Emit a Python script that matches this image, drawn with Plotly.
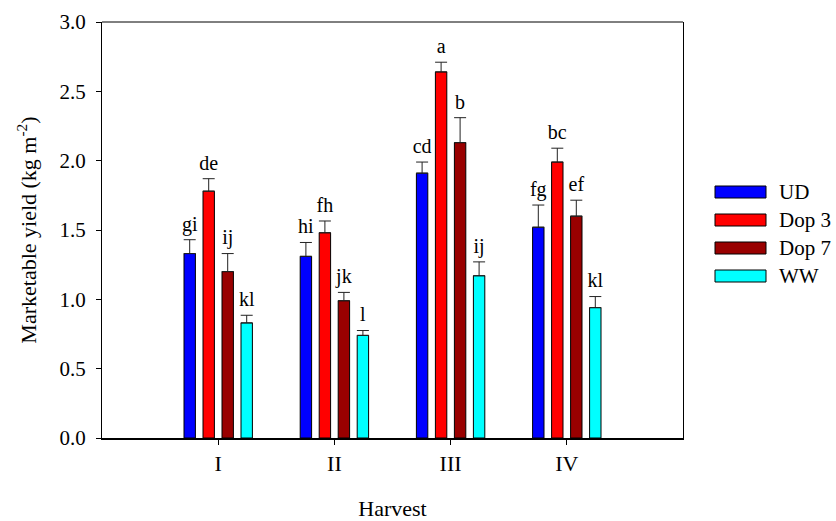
import plotly.graph_objects as go

harvests = ["I", "II", "III", "IV"]
series_names = ["UD", "Dop 3", "Dop 7", "WW"]
series_colors = ["#0000FF", "#FF0000", "#990000", "#00FFFF"]

ud = [1.33, 1.31, 1.91, 1.52]
ud_err = [0.10, 0.10, 0.08, 0.16]
dop3 = [1.78, 1.48, 2.64, 1.99]
dop3_err = [0.09, 0.085, 0.07, 0.10]
dop7 = [1.20, 0.99, 2.13, 1.60]
dop7_err = [0.13, 0.06, 0.18, 0.115]
ww = [0.83, 0.74, 1.17, 0.94]
ww_err = [0.055, 0.035, 0.10, 0.08]

ud_letters = ["gi", "hi", "cd", "fg"]
dop3_letters = ["de", "fh", "a", "bc"]
dop7_letters = ["ij", "jk", "b", "ef"]
ww_letters = ["kl", "l", "ij", "kl"]

values = [ud, dop3, dop7, ww]
errors = [ud_err, dop3_err, dop7_err, ww_err]
letters = [ud_letters, dop3_letters, dop7_letters, ww_letters]

xpos = list(range(1, len(harvests) + 1))
FONT = "Liberation Serif"

fig = go.Figure()
for k, name in enumerate(series_names):
    fig.add_trace(go.Bar(
        x=xpos, y=values[k], name=name, offsetgroup=str(k), alignmentgroup="a",
        marker=dict(color=series_colors[k], line=dict(color="#000000", width=1)),
        error_y=dict(type="data", symmetric=False, array=errors[k],
                     arrayminus=[0] * len(harvests), color="#222222",
                     thickness=1, width=6),
        showlegend=False,
    ))
for k, name in enumerate(series_names):
    tops = [v + e for v, e in zip(values[k], errors[k])]
    fig.add_trace(go.Scatter(
        x=xpos, y=tops, mode="markers+text", text=letters[k], textposition="top center",
        offsetgroup=str(k), alignmentgroup="a",
        marker=dict(size=5, opacity=0),
        textfont=dict(family=FONT, size=20, color="#000000"),
        showlegend=False, hoverinfo="skip",
    ))

# plot area in pixels
L, R, T, B = 102, 683, 22, 438
W, H = R - L, B - T

def px(x):
    return (x - L) / W

def py(y):
    return (B - y) / H

shapes = [dict(type="line", xref="paper", yref="paper", x0=0, x1=1, y0=1, y1=1,
               line=dict(color="#000000", width=1))]
annotations = []
row_y = [192, 220, 248, 276]
for k, name in enumerate(series_names):
    shapes.append(dict(type="rect", xref="paper", yref="paper",
                       x0=px(715), x1=px(766), y0=py(row_y[k] + 6), y1=py(row_y[k] - 6),
                       fillcolor=series_colors[k], line=dict(color="#000000", width=1)))
    annotations.append(dict(xref="paper", yref="paper", x=px(777), y=py(row_y[k]),
                            text=name, showarrow=False, xanchor="left", yanchor="middle",
                            font=dict(family=FONT, size=21, color="#000000")))

fig.update_layout(
    width=836, height=521,
    margin=dict(l=L, r=836 - R, t=T, b=521 - B),
    paper_bgcolor="white", plot_bgcolor="white",
    barmode="group", bargap=0.346, bargroupgap=0.4,
    scattermode="group", scattergap=0.346,
    font=dict(family=FONT, size=20, color="#000000"),
    shapes=shapes, annotations=annotations,
    xaxis=dict(range=[0, 5], tickvals=xpos, ticktext=harvests, showgrid=False,
               zeroline=False, showline=True, linecolor="#000000", linewidth=2,
               ticks="outside", ticklen=5, tickcolor="#000000", tickwidth=1,
               automargin=False,
               tickfont=dict(family=FONT, size=22),
               title=dict(text="Harvest", font=dict(family=FONT, size=22), standoff=26)),
    yaxis=dict(range=[0, 3], dtick=0.5, tick0=0, tickformat=".1f", showgrid=False,
               zeroline=False, showline=True, mirror=True, linecolor="#000000", linewidth=1,
               ticks="outside", ticklen=5, tickcolor="#000000", tickwidth=1,
               ticklabelstandoff=6, automargin=False,
               tickfont=dict(family=FONT, size=21),
               title=dict(text="Marketable yield (kg m<sup>-2</sup>)",
                          font=dict(family=FONT, size=22), standoff=16)),
)

fig.write_html("out.html", config={"displayModeBar": False},
               post_script="document.body.style.margin='0';document.body.style.padding='0';")
